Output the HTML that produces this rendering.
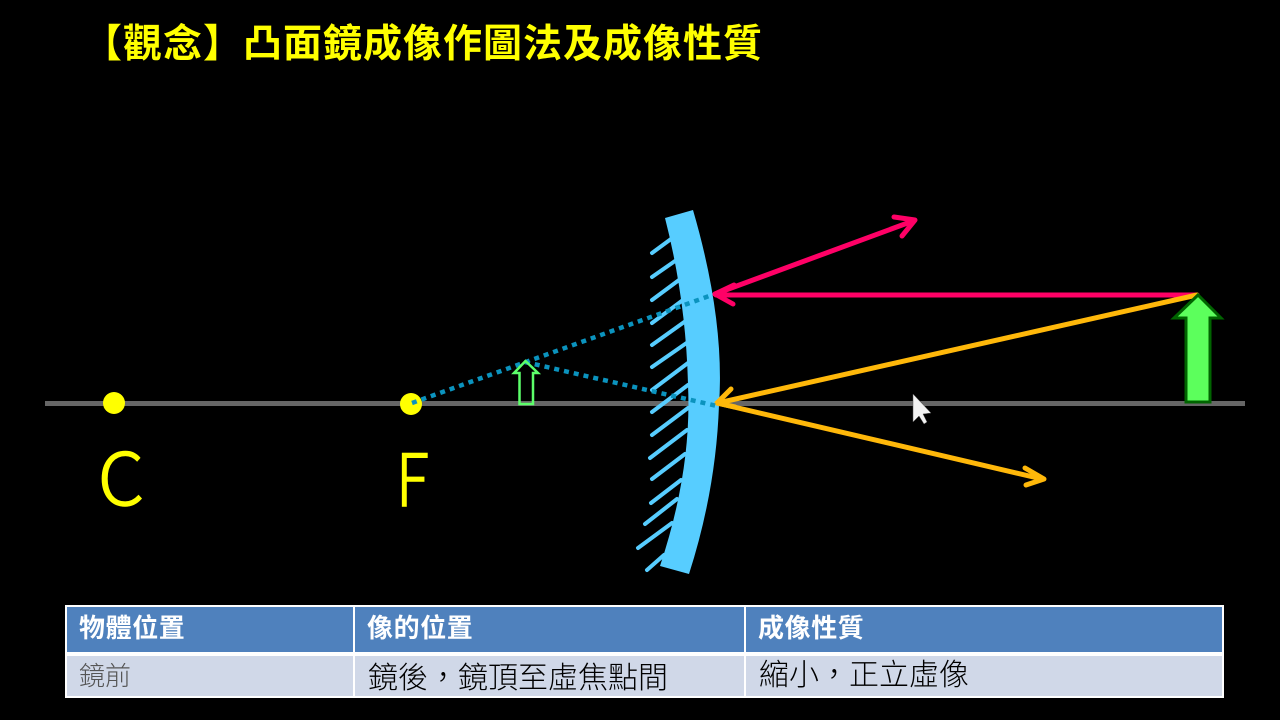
<!DOCTYPE html>
<html lang="zh-TW">
<head>
<meta charset="utf-8">
<style>
html,body{margin:0;padding:0;background:#000;width:1280px;height:720px;overflow:hidden}
svg{display:block;position:absolute;left:0;top:0}
text{font-family:"Noto Sans CJK TC",sans-serif}
</style>
</head>
<body>
<svg width="1280" height="720" viewBox="0 0 1280 720" xmlns="http://www.w3.org/2000/svg">
<rect width="1280" height="720" fill="#000"/>
<text x="83" y="57" font-size="39" font-weight="700" fill="#FFFF00" letter-spacing="1">【觀念】凸面鏡成像作圖法及成像性質</text>

<rect x="45" y="401" width="1200" height="5" fill="#666"/>

<g stroke="#57CDFF" stroke-width="4" stroke-linecap="round">
<line x1="652" y1="253" x2="671" y2="239"/>
<line x1="652" y1="277" x2="675" y2="261"/>
<line x1="652" y1="300" x2="679" y2="280"/>
<line x1="652" y1="323" x2="683" y2="300"/>
<line x1="652" y1="345" x2="687" y2="320"/>
<line x1="652" y1="367" x2="688" y2="342"/>
<line x1="652" y1="390" x2="688" y2="363"/>
<line x1="652" y1="412" x2="688" y2="385"/>
<line x1="652" y1="435" x2="688" y2="408"/>
<line x1="650" y1="458" x2="687" y2="430"/>
<line x1="652" y1="479" x2="685" y2="454"/>
<line x1="651" y1="503" x2="681" y2="480"/>
<line x1="645" y1="524" x2="677" y2="499"/>
<line x1="638" y1="548" x2="672" y2="523"/>
<line x1="647" y1="570" x2="664" y2="555"/>
</g>
<path d="M665 218 L693 210 Q725 320 719 405 Q716 490 689 574 L660 566 Q692 470 688 385 Q686 300 665 218 Z" fill="#57CDFF"/>

<circle cx="114" cy="403" r="11" fill="#FFFF00"/>
<circle cx="411" cy="404" r="11" fill="#FFFF00"/>

<text x="0" y="0" font-size="72" font-weight="300" fill="#FFFF00" stroke="#FFFF00" stroke-width="1.4" transform="translate(98,505) scale(1.02,1)">C</text>
<text x="0" y="0" font-size="72" font-weight="300" fill="#FFFF00" stroke="#FFFF00" stroke-width="1.4" transform="translate(396,506) scale(0.85,1)">F</text>

<g stroke="#FF0066" stroke-width="5" fill="none" stroke-linecap="round" stroke-linejoin="round">
<line x1="1197" y1="295" x2="716" y2="295"/>
<path d="M734 285 L715 294 L733 304"/>
<line x1="715" y1="294" x2="913" y2="221"/>
<path d="M894 217 L915 220 L902 236"/>
</g>
<g stroke="#FFB80A" stroke-width="5" fill="none" stroke-linecap="round" stroke-linejoin="round">
<line x1="1197" y1="295" x2="718" y2="403"/>
<path d="M731 389 L717 403 L735 407"/>
<line x1="717" y1="403" x2="1042" y2="479"/>
<path d="M1025 468 L1044 479 L1026 485"/>
</g>

<g stroke="#0B93BE" stroke-width="4.5" fill="none" stroke-dasharray="5 5">
<line x1="412" y1="403" x2="712" y2="295"/>
<line x1="525" y1="362" x2="717" y2="406"/>
</g>

<polygon points="525.5,361 514,373 519.5,373 519.5,404 533,404 533,373 538,373" fill="none" stroke="#5CFF6A" stroke-width="2.5"/>
<polygon points="1198,295 1174,318 1186,318 1186,402 1210,402 1210,318 1221,318" fill="#5CFF5C" stroke="#006400" stroke-width="3"/>

<polygon points="913,394 913,422 919,416 924,424 927,422 923,414 931,413" fill="#F2F2F2" stroke="#555" stroke-width="0.5"/>

<rect x="65" y="605" width="1159" height="93" fill="#fff"/>
<rect x="67" y="607" width="286" height="45" fill="#4F81BD"/>
<rect x="355" y="607" width="389" height="45" fill="#4F81BD"/>
<rect x="746" y="607" width="476" height="45" fill="#4F81BD"/>
<rect x="67" y="656" width="286" height="40" fill="#D0D8E8"/>
<rect x="355" y="656" width="389" height="40" fill="#D0D8E8"/>
<rect x="746" y="656" width="476" height="40" fill="#D0D8E8"/>

<g font-size="26" font-weight="700" fill="#fff" letter-spacing="0.6">
<text x="79" y="637">物體位置</text>
<text x="367" y="637">像的位置</text>
<text x="758" y="637">成像性質</text>
</g>
<text x="79" y="685" font-size="26" font-weight="300" fill="#555">鏡前</text>
<g font-size="30" font-weight="300" fill="#000">
<text x="368" y="688">鏡後&#65292;鏡頂至虛焦點間</text>
<text x="759" y="685">縮小&#65292;正立虛像</text>
</g>
</svg>
</body>
</html>
